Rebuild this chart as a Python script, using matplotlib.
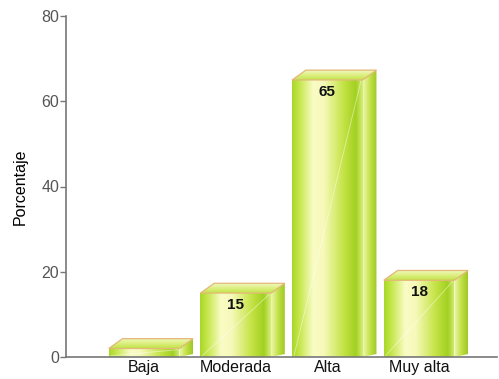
import numpy as np
import matplotlib.pyplot as plt
from matplotlib.colors import LinearSegmentedColormap
from matplotlib.patches import Polygon

categorias = ["Baja", "Moderada", "Alta", "Muy alta"]
porcentajes = [2, 15, 65, 18]
etiquetas = ["", "15", "65", "18"]

plt.rcParams['font.family'] = ['Liberation Sans', 'DejaVu Sans']

ancho = 0.77     # front face width (category units)
dx, dy = 0.15, 2.3   # 3d depth offset

frente_cmap = LinearSegmentedColormap.from_list("frente", [
    (0.0, "#a8d82a"), (0.1, "#c4e64a"), (0.3, "#fafcc6"), (0.45, "#f6f9b8"),
    (0.72, "#c6e448"), (0.9, "#a2d020"), (1.0, "#d6ee7a")])
lado_cmap = LinearSegmentedColormap.from_list("lado", [
    (0.0, "#eef7b0"), (0.5, "#c4e24a"), (1.0, "#9ec822")])
tapa_cmap = LinearSegmentedColormap.from_list("tapa", [
    (0.0, "#c2e446"), (0.6, "#e2f290"), (1.0, "#f0f8c0")])

fig = plt.figure(figsize=(4.99, 3.79), dpi=100)
ax = fig.add_axes([66 / 499, (379 - 357) / 379, (497 - 66) / 499, (357 - 16) / 379])
ax.set_xlim(-0.852, 3.85)
ax.set_ylim(0, 80)


def cara(verts, cmap, horizontal=True):
    poly = Polygon(verts, closed=True, facecolor="none", edgecolor="none")
    ax.add_patch(poly)
    xs = [v[0] for v in verts]
    ys = [v[1] for v in verts]
    grad = np.linspace(0, 1, 256)
    img = grad[None, :] if horizontal else grad[:, None]
    im = ax.imshow(img, cmap=cmap, aspect="auto", origin="lower",
                   extent=(min(xs), max(xs), min(ys), max(ys)),
                   interpolation="bilinear", zorder=2)
    im.set_clip_path(poly)


for i, (v, lab) in enumerate(zip(porcentajes, etiquetas)):
    x0 = i - ancho / 2
    x1 = i + ancho / 2
    # side face
    cara([(x1, 0), (x1, v), (x1 + dx, v + dy), (x1 + dx, dy * 0.3)], lado_cmap)
    # top face
    tapa = [(x0, v), (x1, v), (x1 + dx, v + dy), (x0 + dx, v + dy)]
    cara(tapa, tapa_cmap, horizontal=False)
    ax.add_patch(Polygon(tapa, closed=True, facecolor="none",
                         edgecolor="#e4b77a", lw=0.9, zorder=3))
    # front face
    cara([(x0, 0), (x1, 0), (x1, v), (x0, v)], frente_cmap)
    ax.plot([x0 + 0.02, x1 - 0.02], [0.3, v - 0.3], color="white",
            lw=0.6, alpha=0.5, zorder=3)
    if lab:
        ax.text(i, v - 1.1, lab, ha="center", va="top", fontsize=11,
                fontweight="bold", color="#111111", zorder=4)

for s in ["top", "right"]:
    ax.spines[s].set_visible(False)
ax.spines["left"].set_color("#777777")
ax.spines["bottom"].set_color("#777777")
ax.spines["left"].set_linewidth(1.2)
ax.spines["bottom"].set_linewidth(1.2)

ax.set_yticks([0, 20, 40, 60, 80])
ax.tick_params(axis="y", length=4, width=1, color="#777777",
               labelcolor="#555555", labelsize=11.5, pad=1)
ax.set_xticks(range(len(categorias)))
ax.set_xticklabels(categorias)
ax.tick_params(axis="x", length=0, labelsize=11.5, labelcolor="#111111", pad=2)
ax.set_ylabel("Porcentaje", fontsize=11.5, labelpad=10)

fig.savefig("out.png", dpi=100, facecolor="white")
